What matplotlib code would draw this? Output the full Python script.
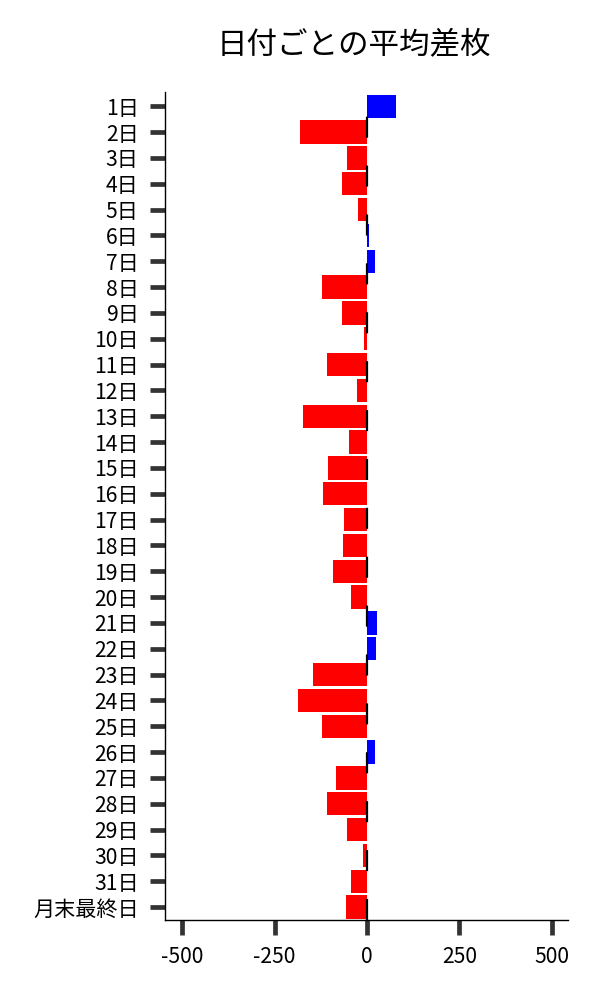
"""Average coin difference per day of month, as a horizontal bar chart."""
import numpy as np
import matplotlib
matplotlib.use("Agg")
import matplotlib.pyplot as plt

plt.rcParams["font.family"] = ["Noto Sans CJK JP", "DejaVu Sans"]

# data
days = [f"{d}日" for d in range(1, 32)] + ["月末最終日"]
avg_diff = [79, -182, -54, -68, -24, 5, 22, -122, -68, -8,
            -108, -27, -173, -49, -106, -119, -62, -65, -92, -43,
            27, 24, -146, -187, -122, 22, -84, -108, -54, -11,
            -43, -57]
xticks = [-500, -250, 0, 250, 500]

vals = np.array(avg_diff)
colors = np.where(vals >= 0, "#0000ff", "#ff0000")
pos = np.arange(len(days))

fig = plt.figure(figsize=(6, 10), dpi=100)
ax = fig.add_axes([0.275, 0.08, 0.672, 0.828])

ax.barh(pos, vals, height=0.9, color=colors, zorder=2)
ax.axvline(0, color="black", lw=1.6, ls=(0, (9.5, 12.5)), zorder=3)

ax.set_yticks(pos)
ax.set_yticklabels(days)
ax.set_ylim(len(days) - 0.5, -0.55)
ax.set_xticks(xticks)
ax.set_xticklabels([str(t) for t in xticks])
ax.set_xlim(-547, 545)

for s in ["top", "right"]:
    ax.spines[s].set_visible(False)
for s in ["left", "bottom"]:
    ax.spines[s].set_linewidth(1.0)
ax.tick_params(axis="both", length=11, width=3.4, color="#333333",
               labelsize=15.2)
ax.tick_params(axis="x", pad=8)
ax.tick_params(axis="y", pad=8)

fig.text(0.59, 0.955, "日付ごとの平均差枚", ha="center", va="center", fontsize=22)

fig.savefig("out.png", dpi=100)
